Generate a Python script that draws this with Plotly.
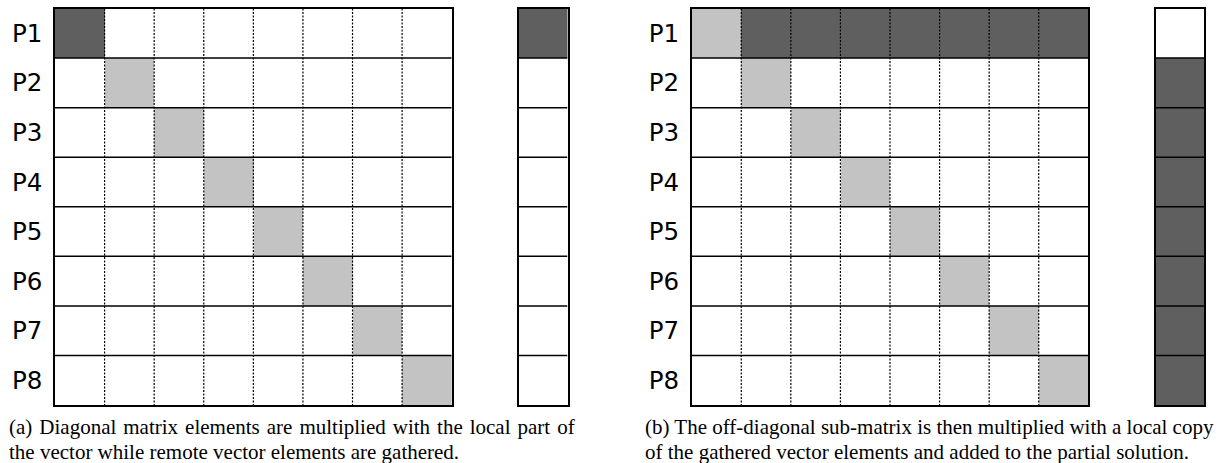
import plotly.graph_objects as go

# ---------------- data ----------------
row_labels = ["P1", "P2", "P3", "P4", "P5", "P6", "P7", "P8"]
n_cols = 8
# 0 = empty, 1 = light (diagonal block), 2 = dark (active)
matrix_a = [
    [2, 0, 0, 0, 0, 0, 0, 0],
    [0, 1, 0, 0, 0, 0, 0, 0],
    [0, 0, 1, 0, 0, 0, 0, 0],
    [0, 0, 0, 1, 0, 0, 0, 0],
    [0, 0, 0, 0, 1, 0, 0, 0],
    [0, 0, 0, 0, 0, 1, 0, 0],
    [0, 0, 0, 0, 0, 0, 1, 0],
    [0, 0, 0, 0, 0, 0, 0, 1],
]
vector_a = [2, 0, 0, 0, 0, 0, 0, 0]
matrix_b = [
    [1, 2, 2, 2, 2, 2, 2, 2],
    [0, 1, 0, 0, 0, 0, 0, 0],
    [0, 0, 1, 0, 0, 0, 0, 0],
    [0, 0, 0, 1, 0, 0, 0, 0],
    [0, 0, 0, 0, 1, 0, 0, 0],
    [0, 0, 0, 0, 0, 1, 0, 0],
    [0, 0, 0, 0, 0, 0, 1, 0],
    [0, 0, 0, 0, 0, 0, 0, 1],
]
vector_b = [0, 2, 2, 2, 2, 2, 2, 2]
caption_a = ["(a) Diagonal matrix elements are multiplied with the local part of",
             "the vector while remote vector elements are gathered."]
caption_b = ["(b) The off-diagonal sub-matrix is then multiplied with a local copy",
             "of the gathered vector elements and added to the partial solution."]

# ---------------- style ----------------
W, H = 1222, 463
WHITE, LIGHT, DARK = "#ffffff", "#c3c3c3", "#5f5f5f"
cscale = [[0.0, WHITE], [0.5, LIGHT], [1.0, DARK]]
LABEL_FONT = dict(family="DejaVu Sans", size=24.5, color="black")
CAP_FONT = dict(family="Liberation Serif", size=21, color="black")

def px_x(a, b):
    return [a / W, b / W]

def px_y(top, bottom):
    return [1 - bottom / H, 1 - top / H]

def justify(line, extra):
    # widen inter-word gaps (typeset, justified first line)
    return line.replace(" ", " " + extra)

fig = go.Figure()
nrows = len(row_labels)
rows_idx = list(range(nrows))

panels = [
    (matrix_a, vector_a, px_x(55, 451.7), px_x(519, 567.5)),
    (matrix_b, vector_b, px_x(691.7, 1088.3), px_x(1155.5, 1204.2)),
]
ydom = px_y(8.5, 405)

def hlines(x0, x1):
    xs, ys = [], []
    for r in range(1, nrows):
        xs += [x0, x1, None]
        ys += [r - 0.5, r - 0.5, None]
    return xs, ys

def vlines(ncols):
    xs, ys = [], []
    for c in range(1, ncols):
        xs += [c - 0.5, c - 0.5, None]
        ys += [-0.5, nrows - 0.5, None]
    return xs, ys

ax = 1
for mat, vec, xd_m, xd_v in panels:
    xa, ya = f"x{ax}", f"y{ax}"
    fig.add_trace(go.Heatmap(z=mat, x=list(range(n_cols)), y=rows_idx,
                             colorscale=cscale, zmin=0, zmax=2, showscale=False,
                             hoverinfo="skip", xaxis=xa, yaxis=ya))
    vx, vy = vlines(n_cols)
    fig.add_trace(go.Scatter(x=vx, y=vy, mode="lines",
                             line=dict(color="black", width=1.2, dash="2px,1.5px"),
                             hoverinfo="skip", showlegend=False, xaxis=xa, yaxis=ya))
    hx, hy = hlines(-0.5, n_cols - 0.5)
    fig.add_trace(go.Scatter(x=hx, y=hy, mode="lines",
                             line=dict(color="black", width=1.5),
                             hoverinfo="skip", showlegend=False, xaxis=xa, yaxis=ya))
    key = "" if ax == 1 else str(ax)
    fig.layout[f"xaxis{key}"] = dict(domain=xd_m, range=[-0.5, n_cols - 0.5],
                                     showgrid=False, zeroline=False, showticklabels=False,
                                     ticks="", showline=True, mirror=True,
                                     linecolor="black", linewidth=1.5, anchor=ya,
                                     fixedrange=True)
    fig.layout[f"yaxis{key}"] = dict(domain=ydom, range=[nrows - 0.5, -0.5],
                                     tickmode="array", tickvals=rows_idx, ticktext=row_labels,
                                     tickfont=LABEL_FONT, ticks="", ticklabelstandoff=6,
                                     showgrid=False, zeroline=False, showline=True,
                                     mirror=True, linecolor="black", linewidth=1.5,
                                     anchor=xa, fixedrange=True)
    ax += 1
    xa, ya = f"x{ax}", f"y{ax}"
    fig.add_trace(go.Heatmap(z=[[v] for v in vec], x=[0], y=rows_idx,
                             colorscale=cscale, zmin=0, zmax=2, showscale=False,
                             hoverinfo="skip", xaxis=xa, yaxis=ya))
    hx, hy = hlines(-0.5, 0.5)
    fig.add_trace(go.Scatter(x=hx, y=hy, mode="lines",
                             line=dict(color="black", width=1.5),
                             hoverinfo="skip", showlegend=False, xaxis=xa, yaxis=ya))
    key = str(ax)
    fig.layout[f"xaxis{key}"] = dict(domain=xd_v, range=[-0.5, 0.5],
                                     showgrid=False, zeroline=False, showticklabels=False,
                                     ticks="", showline=True, mirror=True,
                                     linecolor="black", linewidth=1.5, anchor=ya,
                                     fixedrange=True)
    fig.layout[f"yaxis{key}"] = dict(domain=ydom, range=[nrows - 0.5, -0.5],
                                     showticklabels=False, ticks="",
                                     showgrid=False, zeroline=False, showline=True,
                                     mirror=True, linecolor="black", linewidth=1.5,
                                     anchor=xa, fixedrange=True)
    ax += 1

# captions
captions = [
    ([justify(caption_a[0], "\u200a"), caption_a[1]], 7),
    ([caption_b[0], caption_b[1]], 643),
]
for lines, x0 in captions:
    for i, line in enumerate(lines):
        fig.add_annotation(text=line, xref="paper", yref="paper",
                           x=x0 / W, y=1 - (427 + 24.5 * i) / H,
                           xanchor="left", yanchor="middle", showarrow=False,
                           font=CAP_FONT, align="left")

fig.update_layout(width=W, height=H, margin=dict(l=0, r=0, t=0, b=0),
                  paper_bgcolor="white", plot_bgcolor="white", showlegend=False)

fig.write_html("out.html", config={"displayModeBar": False},
               post_script="document.body.style.margin='0';"
                           "document.documentElement.style.overflow='hidden';")
